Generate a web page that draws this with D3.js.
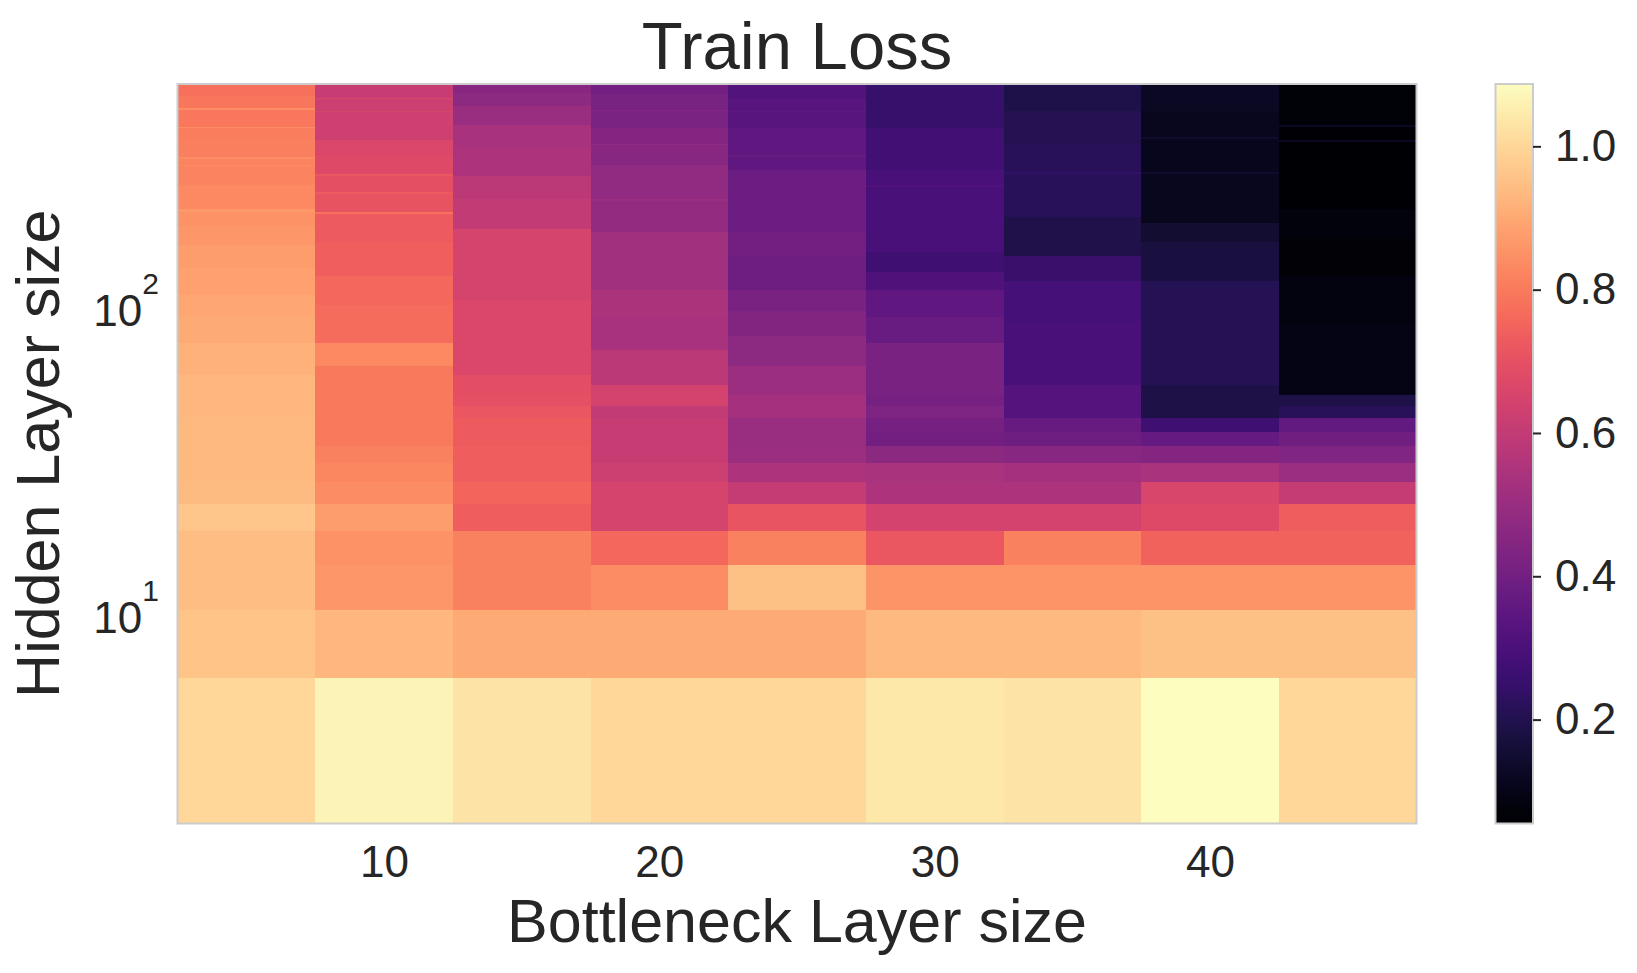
<!DOCTYPE html>
<html>
<head>
<meta charset="utf-8">
<script src="https://cdn.jsdelivr.net/npm/d3@7"></script>
<style>
  html, body { margin: 0; padding: 0; background: #fff; }
  svg text { font-family: "Liberation Sans", Arial, sans-serif; fill: #262626; }
</style>
</head>
<body>
<div id="chart" style="width:1637px;height:973px"></div>
<script>
// bottleneck sizes (columns) and hidden sizes (rows, step 4)
const bottleneckSizes = [5, 10, 15, 20, 25, 30, 35, 40, 45];
const hiddenSizes = d3.range(4, 516, 4);
const xTicks = [10, 20, 30, 40];
const yTicks = [10, 100];
const cbarTicks = [0.2, 0.4, 0.6, 0.8, 1.0];

const lossB5 = [
  [4, 4, 1.00], [8, 8, 0.96], [12, 12, 0.945], [16, 16, 0.945], [20, 20, 0.965],
  [24, 24, 0.94], [28, 40, 0.935], [44, 56, 0.93], [60, 72, 0.92], [76, 88, 0.905],
  [92, 104, 0.895], [108, 128, 0.885], [132, 152, 0.875], [156, 176, 0.86], [180, 196, 0.85],
  [200, 200, 0.865], [204, 240, 0.83], [244, 276, 0.82], [280, 280, 0.835], [284, 292, 0.82],
  [296, 296, 0.84], [300, 336, 0.81], [340, 368, 0.805], [372, 372, 0.84], [376, 424, 0.795],
  [428, 428, 0.84], [432, 468, 0.79], [472, 512, 0.78]
];
const lossB10 = [
  [4, 4, 1.065], [8, 8, 0.93], [12, 12, 0.86], [16, 16, 0.85], [20, 20, 0.875],
  [24, 24, 0.84], [28, 28, 0.825], [32, 32, 0.815], [36, 60, 0.80], [64, 72, 0.83],
  [76, 96, 0.77], [100, 120, 0.76], [124, 156, 0.74], [160, 192, 0.73], [196, 196, 0.78],
  [200, 224, 0.705], [228, 228, 0.725], [232, 256, 0.695], [260, 260, 0.72], [264, 300, 0.675],
  [304, 336, 0.665], [340, 416, 0.63], [420, 420, 0.655], [424, 460, 0.625], [464, 464, 0.66],
  [468, 512, 0.615]
];
const lossB15 = [
  [4, 4, 1.03], [8, 8, 0.905], [12, 12, 0.815], [16, 16, 0.815], [20, 20, 0.735],
  [24, 24, 0.755], [28, 32, 0.735], [36, 40, 0.73], [44, 44, 0.715], [48, 48, 0.70],
  [52, 56, 0.69], [60, 100, 0.665], [104, 172, 0.65], [176, 216, 0.60], [220, 256, 0.585],
  [260, 320, 0.55], [324, 376, 0.535], [380, 436, 0.50], [440, 480, 0.47], [484, 512, 0.455]
];
const lossB20 = [
  [4, 4, 1.00], [8, 8, 0.905], [12, 12, 0.84], [16, 16, 0.76], [20, 20, 0.65],
  [24, 24, 0.65], [28, 28, 0.625], [32, 40, 0.615], [44, 44, 0.60], [48, 52, 0.645],
  [56, 68, 0.585], [72, 88, 0.535], [92, 108, 0.545], [112, 168, 0.52], [172, 212, 0.485],
  [216, 216, 0.51], [220, 280, 0.48], [284, 324, 0.455], [328, 328, 0.48], [332, 368, 0.45],
  [372, 420, 0.425], [424, 424, 0.45], [428, 476, 0.415], [480, 512, 0.40]
];
const lossB25 = [
  [4, 4, 1.00], [8, 8, 0.905], [12, 12, 0.95], [16, 16, 0.815], [20, 20, 0.71],
  [24, 24, 0.61], [28, 28, 0.55], [32, 32, 0.51], [36, 40, 0.50], [44, 48, 0.53],
  [52, 60, 0.51], [64, 76, 0.47], [80, 92, 0.44], [96, 108, 0.42], [112, 140, 0.39],
  [144, 168, 0.40], [172, 268, 0.385], [272, 296, 0.355], [300, 300, 0.375], [304, 368, 0.355],
  [372, 416, 0.335], [420, 420, 0.35], [424, 460, 0.335], [464, 512, 0.32]
];
const lossB30 = [
  [4, 4, 1.035], [8, 8, 0.935], [12, 12, 0.855], [16, 16, 0.72], [20, 20, 0.645],
  [24, 24, 0.55], [28, 28, 0.54], [32, 32, 0.465], [36, 36, 0.40], [40, 40, 0.41],
  [44, 44, 0.43], [48, 48, 0.41], [52, 72, 0.42], [76, 88, 0.375], [92, 108, 0.355],
  [112, 124, 0.31], [128, 144, 0.27], [148, 236, 0.30], [240, 240, 0.315], [244, 268, 0.30],
  [272, 368, 0.28], [372, 512, 0.25]
];
const lossB35 = [
  [4, 4, 1.03], [8, 8, 0.935], [12, 12, 0.855], [16, 16, 0.815], [20, 20, 0.645],
  [24, 24, 0.55], [28, 28, 0.53], [32, 32, 0.455], [36, 36, 0.39], [40, 40, 0.37],
  [44, 52, 0.325], [56, 84, 0.30], [88, 116, 0.285], [120, 140, 0.255], [144, 188, 0.195],
  [192, 260, 0.22], [264, 264, 0.24], [268, 324, 0.22], [328, 420, 0.205], [424, 512, 0.19]
];
const lossB40 = [
  [4, 4, 1.087], [8, 8, 0.95], [12, 12, 0.855], [16, 16, 0.745], [20, 20, 0.675],
  [24, 24, 0.66], [28, 28, 0.54], [32, 32, 0.45], [36, 36, 0.365], [40, 40, 0.27],
  [44, 52, 0.185], [56, 116, 0.21], [120, 156, 0.175], [160, 180, 0.15], [184, 260, 0.115],
  [264, 264, 0.14], [268, 340, 0.11], [344, 344, 0.14], [348, 420, 0.115], [424, 512, 0.12]
];
const lossB45 = [
  [4, 4, 1.00], [8, 8, 0.95], [12, 12, 0.855], [16, 16, 0.745], [20, 20, 0.735],
  [24, 24, 0.61], [28, 28, 0.505], [32, 32, 0.435], [36, 36, 0.395], [40, 40, 0.36],
  [44, 44, 0.22], [48, 48, 0.185], [52, 84, 0.095], [88, 120, 0.085], [124, 160, 0.065],
  [164, 200, 0.08], [204, 332, 0.055], [336, 336, 0.12], [340, 372, 0.06], [376, 376, 0.12],
  [380, 512, 0.07]
];
const lossColumns = [lossB5, lossB10, lossB15, lossB20, lossB25, lossB30, lossB35, lossB40, lossB45];

let DrawHeatmap = function (id) {
    this.svgWidth = 1637
    this.svgHeight = 973
    this.svg = d3.select('#' + id).append('svg')
        .attr('width', this.svgWidth)
        .attr('height', this.svgHeight)
    this.margin = {top: 84, right: 220.5, bottom: 149.5, left: 177.5}
}

DrawHeatmap.prototype.layout = function () {
    const svg = this.svg
    const margin = this.margin
    const x0 = margin.left, x1 = this.svgWidth - margin.right
    const y0 = margin.top, y1 = this.svgHeight - margin.bottom

    // expand the runs into one cell per hidden size
    const cells = []
    lossColumns.forEach((runs, i) => {
        runs.forEach(([lo, hi, v]) => {
            hiddenSizes.filter(h => h >= lo && h <= hi)
                .forEach(h => cells.push({b: bottleneckSizes[i], h: h, v: v}))
        })
    })

    const xScale = d3.scaleLinear().domain([2.5, 47.5]).range([x0, x1])
    const yScale = d3.scaleLog().domain([2, 514]).range([y1, y0])
    const color = d3.scaleSequential(d3.interpolateMagma).domain(d3.extent(cells, d => d.v))

    // cells (edges halfway between neighbours, like pcolormesh)
    svg.append('g').attr('class', 'cells')
        .selectAll('rect').data(cells).join('rect')
        .attr('x', d => xScale(d.b - 2.5))
        .attr('width', d => xScale(d.b + 2.5) - xScale(d.b - 2.5) + 0.5)
        .attr('y', d => yScale(d.h + 2))
        .attr('height', d => yScale(d.h - 2) - yScale(d.h + 2) + 0.5)
        .attr('fill', d => color(d.v))
        .attr('shape-rendering', 'crispEdges')

    svg.append('rect')
        .attr('x', x0).attr('y', y0)
        .attr('width', x1 - x0).attr('height', y1 - y0)
        .attr('fill', 'none').attr('stroke', '#cccccc').attr('stroke-width', 2)

    // x axis
    const xAxis = d3.axisBottom(xScale).tickValues(xTicks).tickSize(0).tickPadding(22)
    const xAxisG = svg.append('g').attr('transform', `translate(0,${y1})`).call(xAxis)
    xAxisG.select('.domain').remove()
    xAxisG.selectAll('text')
        .style('font-family', '"Liberation Sans", Arial, sans-serif')
        .style('font-size', '44px').attr('fill', '#262626')

    // y axis, 10^n labels
    const yLab = svg.append('g').selectAll('text').data(yTicks).join('text')
        .attr('x', 159)
        .attr('y', d => yScale(d) + 24)
        .attr('text-anchor', 'end')
        .style('font-size', '44px')
    yLab.append('tspan').text('10')
    yLab.append('tspan').attr('dy', -32).style('font-size', '30px')
        .text(d => Math.round(Math.log10(d)))

    svg.append('text')
        .attr('x', (x0 + x1) / 2).attr('y', 69)
        .attr('text-anchor', 'middle')
        .style('font-size', '67px')
        .text('Train Loss')

    svg.append('text')
        .attr('x', (x0 + x1) / 2).attr('y', 942)
        .attr('text-anchor', 'middle')
        .style('font-size', '61px')
        .text('Bottleneck Layer size')

    svg.append('text')
        .attr('transform', `translate(59,${(y0 + y1) / 2}) rotate(-90)`)
        .attr('text-anchor', 'middle')
        .style('font-size', '61px')
        .text('Hidden Layer size')

    // colorbar
    const cbX = 1495.5, cbW = 37.5
    const cbScale = d3.scaleLinear().domain(color.domain()).range([y1, y0])
    const grad = svg.append('defs').append('linearGradient')
        .attr('id', 'cbGrad').attr('x1', 0).attr('y1', 1).attr('x2', 0).attr('y2', 0)
    grad.selectAll('stop').data(d3.range(0, 1.0001, 0.02)).join('stop')
        .attr('offset', t => t)
        .attr('stop-color', t => d3.interpolateMagma(t))
    svg.append('rect')
        .attr('x', cbX).attr('y', y0)
        .attr('width', cbW).attr('height', y1 - y0)
        .attr('fill', 'url(#cbGrad)')
        .attr('stroke', '#cccccc').attr('stroke-width', 2)

    const cbAxis = d3.axisRight(cbScale).tickValues(cbarTicks)
        .tickFormat(d3.format('.1f')).tickSize(8).tickPadding(14)
    const cbG = svg.append('g').attr('transform', `translate(${cbX + cbW},0)`).call(cbAxis)
    cbG.select('.domain').remove()
    cbG.selectAll('line').attr('stroke', '#262626').attr('stroke-width', 2)
    cbG.selectAll('text')
        .style('font-family', '"Liberation Sans", Arial, sans-serif')
        .style('font-size', '44px').attr('fill', '#262626')
}

const chart = new DrawHeatmap('chart')
chart.layout()
</script>
</body>
</html>
